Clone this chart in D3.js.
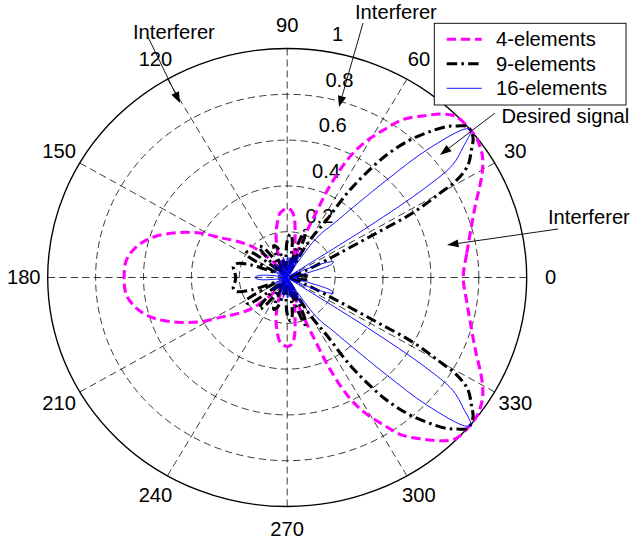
<!DOCTYPE html>
<html lang="en">
<head>
<meta charset="UTF-8">
<title>Array patterns</title>
<script src="https://d3js.org/d3.v7.min.js"></script>
<style>
  body { margin: 0; background: #fff; }
  svg { display: block; }
  text { font-family: "Liberation Sans", Arial, sans-serif; font-size: 19.3px; fill: #000; }
</style>
</head>
<body>
<script>
// Upper half (0..180 deg) of each normalised pattern.
// The plot is mirror symmetric about the 0-180 axis.
const angles4 = [0, 8, 14, 21.5, 29, 33, 37, 40, 45, 48, 51, 55, 58, 61.5, 64, 66, 67, 68, 70, 72,
  74, 76, 80, 84, 87, 90, 93, 96.5, 100, 103, 106, 109, 112, 115, 120, 125, 130, 133, 137, 140,
  144, 147.5, 152, 157, 162, 166, 170, 174, 180];
const gain4 = [0.735, 0.757, 0.787, 0.843, 0.93, 0.972, 0.995, 1.0, 0.995, 0.96, 0.909, 0.842, 0.759, 0.667, 0.57, 0.435, 0.306, 0.209, 0.09, 0.03,
  0.07, 0.124, 0.19, 0.27, 0.295, 0.302, 0.295, 0.28, 0.24, 0.205, 0.165, 0.127, 0.07, 0.02, 0.01, 0.03, 0.08, 0.123, 0.195, 0.23,
  0.275, 0.32, 0.413, 0.5, 0.58, 0.626, 0.658, 0.677, 0.681];

const angles9 = [0, 6, 11, 15, 19, 23, 26, 27.5, 28.3, 30, 31, 33, 36, 38, 40, 41.5, 43, 44.7, 47, 49.5,
  51.5, 53.2, 55.6, 56.8, 59.8, 62, 64, 66, 68, 70, 73, 76, 79, 83, 86, 90, 94, 98, 103, 108,
  112, 116, 120, 124, 128, 131, 135, 138, 141, 145, 149, 153, 156, 160, 164, 168, 174, 180];
const gain9 = [0.09, 0.08, 0.04, 0.005, 0.04, 0.117, 0.245, 0.42, 0.596, 0.737, 0.826, 0.9, 0.951, 0.985, 1.0, 0.998, 0.97, 0.937, 0.87, 0.79,
  0.71, 0.623, 0.463, 0.3, 0.189, 0.08, 0.02, 0.1, 0.2, 0.22, 0.15, 0.03, 0.08, 0.17, 0.19, 0.16, 0.06, 0.01, 0.08, 0.14,
  0.15, 0.08, 0.01, 0.09, 0.17, 0.18, 0.1, 0.02, 0.1, 0.2, 0.2, 0.1, 0.05, 0.16, 0.22, 0.23, 0.22, 0.215];

const angles16 = [0, 5, 10, 14, 17, 19.5, 22, 25, 28, 30.5, 32, 33.2, 34.2, 35.5, 37.8, 40, 41, 43.7, 45.7, 48.4,
  51, 53, 55, 57, 59, 61, 63, 65, 67, 69, 71, 73, 75, 77, 79, 81, 83, 86, 89, 92,
  95, 98, 101, 104, 107, 110, 113, 116, 119, 122, 125, 128, 131, 135, 139, 143, 147, 151, 155, 159,
  163, 166, 168, 170, 172, 175, 178, 180];
const gain16 = [0.05, 0.02, 0.04, 0.1, 0.19, 0.205, 0.17, 0.08, 0.02, 0.05, 0.0, 0.4, 0.7, 0.85, 0.93, 1.0, 0.99, 0.806, 0.595, 0.394,
  0.29, 0.25, 0.2, 0.06, 0.0, 0.1, 0.13, 0.05, 0.0, 0.08, 0.1, 0.03, 0.0, 0.07, 0.09, 0.03, 0.0, 0.08, 0.09, 0.02,
  0.0, 0.07, 0.09, 0.03, 0.0, 0.06, 0.08, 0.02, 0.0, 0.05, 0.07, 0.02, 0.0, 0.06, 0.08, 0.02, 0.0, 0.05, 0.06, 0.01,
  0.0, 0.04, 0.02, 0.0, 0.06, 0.11, 0.13, 0.134];

const seriesNames = ["4-elements", "9-elements", "16-elements"];
const angleTicks = [0, 30, 60, 90, 120, 150, 180, 210, 240, 270, 300, 330];
const radiusTicks = [0.2, 0.4, 0.6, 0.8, 1];
const noteTexts = ["Interferer", "Interferer", "Desired signal", "Interferer"];

// ---- layout (pixel coords of the photo) ----
const W = 633, H = 544;
const kx = 239.5 / 229;           // the original figure is stretched horizontally
const X = px => px / kx;
const cx = X(287.2), cy = 277.5, R = 229;

const svg = d3.select("body").append("svg")
  .attr("width", W).attr("height", H)
  .attr("viewBox", `0 0 ${W / kx} ${H}`)
  .attr("preserveAspectRatio", "none");

const r = d3.scaleLinear().domain([0, 1]).range([0, R]);
const rad = d => d * Math.PI / 180;

const g = svg.append("g").attr("transform", `translate(${cx},${cy})`);

// grid rings
g.selectAll("circle.ring")
  .data(radiusTicks.filter(t => t < 1))
  .join("circle")
  .attr("r", d => r(d))
  .attr("fill", "none")
  .attr("stroke", "#000")
  .attr("stroke-width", 0.75)
  .attr("stroke-dasharray", "7,4");

// spokes
g.selectAll("line.spoke")
  .data(angleTicks.slice(0, 6))
  .join("line")
  .attr("x1", d => -r(1) * Math.cos(rad(d)))
  .attr("y1", d => r(1) * Math.sin(rad(d)))
  .attr("x2", d => r(1) * Math.cos(rad(d)))
  .attr("y2", d => -r(1) * Math.sin(rad(d)))
  .attr("stroke", "#000")
  .attr("stroke-width", 0.75)
  .attr("stroke-dasharray", "7,4");

g.append("circle")
  .attr("r", r(1))
  .attr("fill", "none")
  .attr("stroke", "#000")
  .attr("stroke-width", 1.3);

// angle labels
g.selectAll("text.ang")
  .data(angleTicks)
  .join("text")
  .attr("x", d => 1.1 * r(1) * Math.cos(rad(d)))
  .attr("y", d => -1.1 * r(1) * Math.sin(rad(d)))
  .attr("dy", "0.35em")
  .attr("text-anchor", "middle")
  .text(d => d);

// radius labels along 82 deg
g.selectAll("text.rt")
  .data(radiusTicks)
  .join("text")
  .attr("x", d => r(d + 0.01) * Math.cos(rad(82)))
  .attr("y", d => -r(d + 0.01) * Math.sin(rad(82)) - 7)
  .text(d => "\u00a0\u00a0" + d);

// patterns
function fullPattern(angles, gains) {
  const pts = angles.map((a, i) => [a, gains[i]]);
  for (let i = angles.length - 2; i > 0; i--) pts.push([360 - angles[i], gains[i]]);
  return pts;
}

const radial = d3.lineRadial()
  .angle(d => rad(90 - d[0]))
  .radius(d => r(d[1]))
  .curve(d3.curveCatmullRomClosed.alpha(0.5));

const series = [
  { name: seriesNames[0], pts: fullPattern(angles4, gain4), color: "#ff00ff", width: 3, dash: "9,4.5" },
  { name: seriesNames[1], pts: fullPattern(angles9, gain9), color: "#000", width: 3, dash: "10,4,2.5,4" },
  { name: seriesNames[2], pts: fullPattern(angles16, gain16), color: "#0000ff", width: 0.9, dash: null }
];

g.selectAll("path.pat")
  .data(series)
  .join("path")
  .attr("d", d => radial(d.pts))
  .attr("fill", "none")
  .attr("stroke", d => d.color)
  .attr("stroke-width", d => d.width)
  .attr("stroke-dasharray", d => d.dash)
  .attr("stroke-linejoin", "round");

// legend
const leg = svg.append("g");
leg.append("rect")
  .attr("x", X(434.3)).attr("y", 23.3)
  .attr("width", X(626) - X(434.3)).attr("height", 105 - 23.3)
  .attr("fill", "#fff").attr("stroke", "#000").attr("stroke-width", 0.9);
series.forEach((s, i) => {
  const y = 39.3 + i * 24.5;
  leg.append("line")
    .attr("x1", X(446.7)).attr("x2", X(481.7))
    .attr("y1", y).attr("y2", y)
    .attr("stroke", s.color)
    .attr("stroke-width", s.width)
    .attr("stroke-dasharray", s.dash);
  leg.append("text")
    .attr("x", X(496)).attr("y", y)
    .attr("dy", "0.35em")
    .text(s.name);
});

// annotations: text position, arrow tail, arrow tip
const notes = [
  { tx: 133, ty: 39.5, from: [148, 37], to: [180, 103] },
  { tx: 355, ty: 19.5, from: [363, 23], to: [339, 107] },
  { tx: 501.5, ty: 123.5, from: [495, 113], to: [440, 155] },
  { tx: 548, ty: 224.5, from: [558, 229], to: [447, 245] }
];
const ann = svg.append("g");
notes.forEach((n, i) => {
  ann.append("text").attr("x", X(n.tx)).attr("y", n.ty).text(noteTexts[i]);
  const x1 = X(n.from[0]), y1 = n.from[1], x2 = X(n.to[0]), y2 = n.to[1];
  const a = Math.atan2(y2 - y1, x2 - x1);
  const hl = 11, hw = 4;
  const bx = x2 - hl * Math.cos(a), by = y2 - hl * Math.sin(a);
  ann.append("line")
    .attr("x1", x1).attr("y1", y1).attr("x2", bx).attr("y2", by)
    .attr("stroke", "#000").attr("stroke-width", 0.9);
  ann.append("path")
    .attr("d", `M${x2},${y2}L${bx + hw * Math.sin(a)},${by - hw * Math.cos(a)}L${bx - hw * Math.sin(a)},${by + hw * Math.cos(a)}Z`)
    .attr("fill", "#000");
});
</script>
</body>
</html>
